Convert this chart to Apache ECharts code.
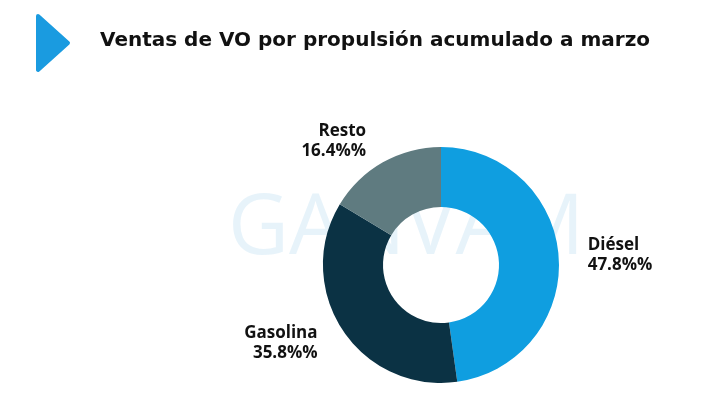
<!DOCTYPE html>
<html>
<head>
<meta charset="utf-8">
<script src="https://cdn.jsdelivr.net/npm/echarts@6/dist/echarts.min.js"></script>
<style>html,body{margin:0;padding:0;background:#fff}#chart{width:720px;height:405px}</style>
</head>
<body>
<div id="chart"></div>
<script>
const categories = ['Diésel', 'Gasolina', 'Resto'];
const values = [47.8, 35.8, 16.4];
const colors = ['#0f9ee0', '#0b3244', '#5f7b80'];

let chart = echarts.init(document.getElementById('chart'));
chart.setOption({
    animation: false,
    graphic: [{
        type: 'polygon',
        shape: { points: [[38, 16], [68, 43], [38, 70]] },
        style: { fill: '#1a9be0', lineJoin: 'round', stroke: '#1a9be0', lineWidth: 4 }
    }, {
        type: 'text', left: 100, top: 31,
        style: { text: 'Ventas de VO por propulsión acumulado a marzo', font: 'bold 20px "DejaVu Sans"', fill: '#111' }
    }, {
        type: 'text', left: 228, top: 188, z: -1,
        style: { text: 'GANVAM', font: '84px "Open Sans"', fill: 'rgba(120,190,230,0.18)', letterSpacing: 20 }
    }],
    series: [{
        type: 'pie',
        center: [441, 265],
        radius: [58, 118],
        startAngle: 90,
        clockwise: true,
        labelLine: { show: false, length: 24, length2: 0 },
        label: {
            show: true,
            position: 'outside',
            formatter: p => p.name + '\n' + p.value.toFixed(1) + '%%',
            color: '#111',
            fontFamily: 'Open Sans',
            fontWeight: 'bold',
            fontSize: 17,
            lineHeight: 20,
            align: 'center'
        },
        data: categories.map((c, i) => ({ name: c, value: values[i], itemStyle: { color: colors[i] } }))
    }]
});
</script>
</body>
</html>
